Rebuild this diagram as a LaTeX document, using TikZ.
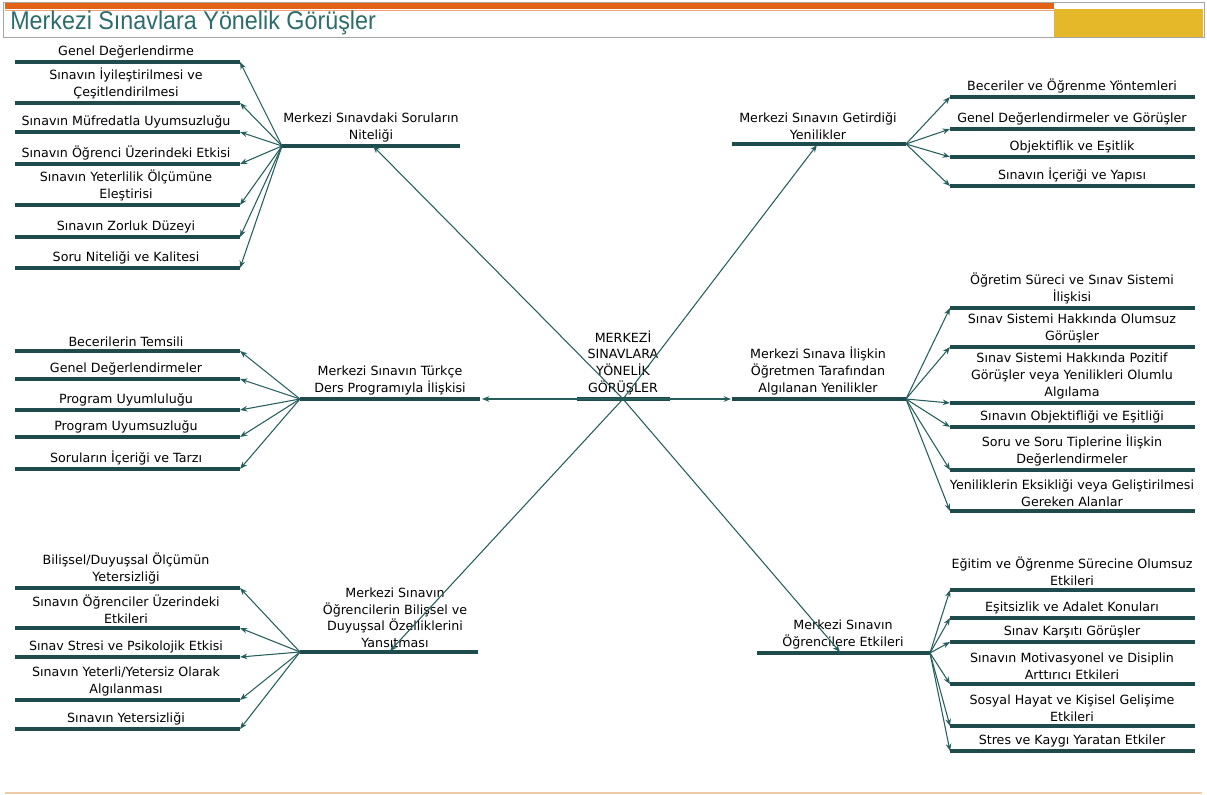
\documentclass[tikz,border=0pt]{standalone}
\usepackage{fontspec}
\usepackage{graphicx}
\setmainfont{DejaVu Sans}
\newfontfamily\titlefont{Liberation Sans}
\usetikzlibrary{arrows.meta}

\definecolor{branch}{RGB}{30,76,76}
\definecolor{twig}{RGB}{38,94,94}
\definecolor{headorange}{RGB}{228,98,22}
\definecolor{headgold}{RGB}{228,184,40}
\definecolor{titleteal}{RGB}{45,108,108}
\definecolor{footline}{RGB}{238,204,170}

\begin{document}
\begin{tikzpicture}[x=0.75pt, y=-0.75pt,
  bar/.style={draw=branch, line width=2.4pt},
  arr/.style={draw=twig, line width=0.8pt, -{Stealth[length=5.5pt,width=4.2pt]}},
  item/.style={anchor=south, align=center, inner sep=0pt,
    font=\fontsize{9.5}{12.5}\selectfont}]
  \useasboundingbox (0,0) rectangle (1207,795);

  % header band
  \fill[headorange] (5,2) rectangle (1054,9);
  \draw[headorange!60, line width=0.5pt] (5,10) -- (1054,10);
  \fill[headgold] (1054,9.5) rectangle (1203,37);
  \draw[gray!70, line width=0.6pt] (3,2) rectangle (1204,37);
  \node[anchor=west, inner sep=0pt, text=titleteal,
    font=\titlefont\fontsize{17.5}{20}\selectfont] (title) at (10,23)
    {\scalebox{1}[1.1]{Merkezi Sınavlara Yönelik Görüşler}};
  \draw[footline, line width=1.2pt] (5,793) -- (1202,793);

  % centre
  \coordinate (hub) at (623,399);
  \draw[bar] (577,399) -- (670,399);
  \node[item] (core) at (623,395) {MERKEZİ\\SINAVLARA\\YÖNELİK\\GÖRÜŞLER};

  % main branches
  \coordinate (ulf) at (282,146);
  \coordinate (ultip) at (373,146);
  \draw[bar] (ulf) -- (460,146);
  \node[item] (ul) at (371,142) {Merkezi Sınavdaki Soruların\\Niteliği};
  \draw[arr] (hub) -- (ultip);

  \coordinate (mlf) at (300,399);
  \coordinate (mltip) at (482,399);
  \draw[bar] (mlf) -- (480,399);
  \node[item] (ml) at (390,395) {Merkezi Sınavın Türkçe\\Ders Programıyla İlişkisi};
  \draw[arr] (hub) -- (mltip);

  \coordinate (llf) at (300,652);
  \coordinate (lltip) at (390,651);
  \draw[bar] (llf) -- (478,652);
  \node[item] (ll) at (395,648) {Merkezi Sınavın\\Öğrencilerin Bilişsel ve\\Duyuşsal Özelliklerini\\Yansıtması};
  \draw[arr] (hub) -- (lltip);

  \coordinate (urf) at (906,144);
  \coordinate (urtip) at (817,145);
  \draw[bar] (732,144) -- (urf);
  \node[item] (ur) at (818,140) {Merkezi Sınavın Getirdiği\\Yenilikler};
  \draw[arr] (hub) -- (urtip);

  \coordinate (mrf) at (906,399);
  \coordinate (mrtip) at (731,399);
  \draw[bar] (732,399) -- (mrf);
  \node[item] (mr) at (818,395) {Merkezi Sınava İlişkin\\Öğretmen Tarafından\\Algılanan Yenilikler};
  \draw[arr] (hub) -- (mrtip);

  \coordinate (lrf) at (930,653);
  \coordinate (lrtip) at (840,652);
  \draw[bar] (757,653) -- (lrf);
  \node[item] (lr) at (843,649) {Merkezi Sınavın\\Öğrencilere Etkileri};
  \draw[arr] (hub) -- (lrtip);

  % left side sub branches
  \foreach \y/\t [count=\i] in {62/Genel Değerlendirme,
      103/{Sınavın İyileştirilmesi ve\\Çeşitlendirilmesi},
      132/Sınavın Müfredatla Uyumsuzluğu,
      164/Sınavın Öğrenci Üzerindeki Etkisi,
      205/{Sınavın Yeterlilik Ölçümüne\\Eleştirisi},
      237/Sınavın Zorluk Düzeyi,
      268/Soru Niteliği ve Kalitesi} {
    \coordinate (ul\i) at (240,\y);
    \draw[bar] (15,\y) -- (ul\i);
    \draw[arr] (ulf) -- (ul\i);
    \node[item] (ult\i) at (126,\y-4) {\t};
  }

  \foreach \y/\t [count=\i] in {351/Becerilerin Temsili,
      379/Genel Değerlendirmeler,
      410/Program Uyumluluğu,
      437/Program Uyumsuzluğu,
      469/Soruların İçeriği ve Tarzı} {
    \coordinate (ml\i) at (240,\y);
    \draw[bar] (15,\y) -- (ml\i);
    \draw[arr] (mlf) -- (ml\i);
    \node[item] (mlt\i) at (126,\y-4) {\t};
  }

  \foreach \y/\t [count=\i] in {588/{Bilişsel/Duyuşsal Ölçümün\\Yetersizliği},
      628/{Sınavın Öğrenciler Üzerindeki\\Etkileri},
      657/Sınav Stresi ve Psikolojik Etkisi,
      700/{Sınavın Yeterli/Yetersiz Olarak\\Algılanması},
      729/Sınavın Yetersizliği} {
    \coordinate (ll\i) at (240,\y);
    \draw[bar] (15,\y) -- (ll\i);
    \draw[arr] (llf) -- (ll\i);
    \node[item] (llt\i) at (126,\y-4) {\t};
  }

  % right side sub branches
  \foreach \y/\t [count=\i] in {97/Beceriler ve Öğrenme Yöntemleri,
      129/Genel Değerlendirmeler ve Görüşler,
      157/Objektiflik ve Eşitlik,
      186/Sınavın İçeriği ve Yapısı} {
    \coordinate (ur\i) at (950,\y);
    \draw[bar] (ur\i) -- (1195,\y);
    \draw[arr] (urf) -- (ur\i);
    \node[item] (urt\i) at (1072,\y-4) {\t};
  }

  \foreach \y/\t [count=\i] in {308/{Öğretim Süreci ve Sınav Sistemi\\İlişkisi},
      347/{Sınav Sistemi Hakkında Olumsuz\\Görüşler},
      403/{Sınav Sistemi Hakkında Pozitif\\Görüşler veya Yenilikleri Olumlu\\Algılama},
      427/Sınavın Objektifliği ve Eşitliği,
      470/{Soru ve Soru Tiplerine İlişkin\\Değerlendirmeler},
      511/{Yeniliklerin Eksikliği veya Geliştirilmesi\\Gereken Alanlar}} {
    \coordinate (mr\i) at (950,\y);
    \draw[bar] (mr\i) -- (1195,\y);
    \draw[arr] (mrf) -- (mr\i);
    \node[item] (mrt\i) at (1072,\y-4) {\t};
  }

  \foreach \y/\t [count=\i] in {590/{Eğitim ve Öğrenme Sürecine Olumsuz\\Etkileri},
      618/Eşitsizlik ve Adalet Konuları,
      642/Sınav Karşıtı Görüşler,
      684/{Sınavın Motivasyonel ve Disiplin\\Arttırıcı Etkileri},
      726/{Sosyal Hayat ve Kişisel Gelişime\\Etkileri},
      751/Stres ve Kaygı Yaratan Etkiler} {
    \coordinate (lr\i) at (950,\y);
    \draw[bar] (lr\i) -- (1195,\y);
    \draw[arr] (lrf) -- (lr\i);
    \node[item] (lrt\i) at (1072,\y-4) {\t};
  }
\end{tikzpicture}
\end{document}
